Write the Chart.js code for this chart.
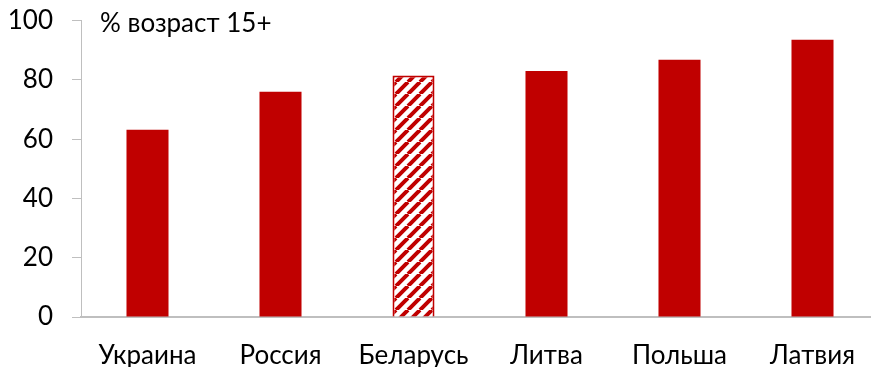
<!DOCTYPE html>
<html>
<head>
<meta charset="utf-8">
<script src="https://cdn.jsdelivr.net/npm/chart.js@4/dist/chart.umd.min.js"></script>
<style>
  html, body { margin: 0; padding: 0; background: #fff; overflow: hidden; }
  #wrap { position: relative; top: -14px; width: 880px; height: 381px; }
  #note { position: absolute; left: 100px; top: 21px; font: 26px/30px Lato, "Open Sans", sans-serif; color: #000; }
</style>
</head>
<body>
<div id="wrap">
  <canvas id="chart"></canvas>
  <div id="note">% возраст 15+</div>
</div>
<script>
const countries = ['Украина', 'Россия', 'Беларусь', 'Литва', 'Польша', 'Латвия'];
const shares = [63.2, 76, 81.5, 83, 86.8, 93.5];
const hatched = [false, false, true, false, false, false];
const yTicks = [0, 20, 40, 60, 80, 100];

const RED = '#C00000';
const GREY = '#BFBFBF';

// diagonal stripes for the highlighted bar
function stripePattern() {
    const c = document.createElement('canvas');
    c.width = 12; c.height = 12;
    const g = c.getContext('2d');
    g.fillStyle = '#fff';
    g.fillRect(0, 0, 12, 12);
    g.strokeStyle = RED;
    g.lineWidth = 4;
    g.beginPath();
    for (let k = -12; k <= 24; k += 12) {
        g.moveTo(k, 12);
        g.lineTo(k + 12, 0);
    }
    g.stroke();
    return g.createPattern(c, 'repeat');
}

const stripes = stripePattern();
const font = { family: 'Lato, "Open Sans", sans-serif', size: 26 };

new Chart(document.getElementById('chart'), {
    type: 'bar',
    data: {
        labels: countries,
        datasets: [{
            data: shares,
            backgroundColor: hatched.map(h => h ? stripes : RED),
            borderColor: RED,
            borderWidth: hatched.map(h => h ? 2 : 0),
            barPercentage: 0.316,
            categoryPercentage: 1
        }]
    },
    options: {
        responsive: true,
        maintainAspectRatio: false,
        animation: false,
        layout: { padding: { top: 6, right: 1, bottom: 0, left: 0 } },
        plugins: { legend: { display: false }, tooltip: { enabled: false } },
        scales: {
            x: {
                afterFit: s => { s.height = 50; },
                grid: { display: false },
                border: { display: true, color: GREY, width: 2 },
                ticks: { color: '#000', font: font, padding: 15, maxRotation: 0, autoSkip: false }
            },
            y: {
                min: 0,
                max: 100,
                afterBuildTicks: s => { s.ticks = yTicks.map(v => ({ value: v })); },
                afterFit: s => { s.width = 81; },
                grid: { drawOnChartArea: false, tickLength: 9, color: GREY, lineWidth: 1 },
                border: { display: true, color: GREY, width: 1 },
                ticks: { color: '#000', font: font, padding: 19 }
            }
        }
    }
});
</script>
</body>
</html>
